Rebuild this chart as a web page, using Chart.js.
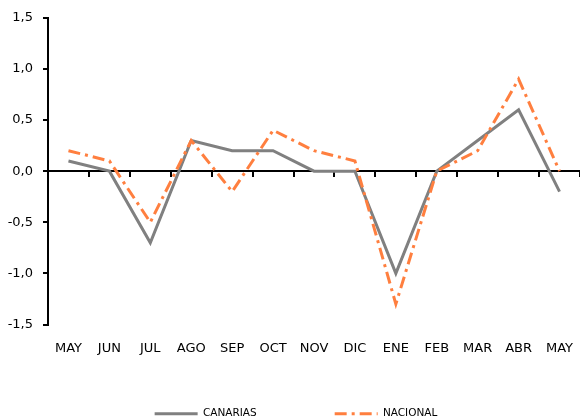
<!DOCTYPE html>
<html>
<head>
<meta charset="utf-8">
<script src="https://cdn.jsdelivr.net/npm/chart.js@4/dist/chart.umd.min.js"></script>
<style>
  html, body { margin: 0; padding: 0; background: #fff; }
  #wrap { width: 580px; height: 419px; position: relative; }
</style>
</head>
<body>
<div id="wrap"><canvas id="c" width="580" height="419"></canvas></div>
<script>
const months = ['MAY','JUN','JUL','AGO','SEP','OCT','NOV','DIC','ENE','FEB','MAR','ABR','MAY'];
const canarias = [0.1, 0.0, -0.7, 0.3, 0.2, 0.2, 0.0, 0.0, -1.0, 0.0, 0.3, 0.6, -0.2];
const nacional = [0.2, 0.1, -0.5, 0.3, -0.2, 0.4, 0.2, 0.1, -1.3, 0.0, 0.2, 0.9, 0.0];
const yMin = -1.5, yMax = 1.5, yStep = 0.5;

const FONT = 'DejaVu Sans';

new Chart(document.getElementById('c'), {
  type: 'line',
  data: {
    labels: months,
    datasets: [
      { label: 'CANARIAS', data: canarias, borderColor: '#808080', backgroundColor: '#808080',
        borderWidth: 3, pointRadius: 0, tension: 0, order: 1 },
      { label: 'NACIONAL', data: nacional, borderColor: '#FF7F3F', backgroundColor: '#FF7F3F',
        borderWidth: 3, borderDash: [12, 5, 3, 5], pointRadius: 0, tension: 0, order: 0 }
    ]
  },
  options: {
    responsive: false,
    animation: false,
    devicePixelRatio: 1,
    layout: { padding: { top: 17, right: -12, left: 0, bottom: -10 } },
    plugins: {
      tooltip: { enabled: false },
      title: { display: false },
      legend: {
        position: 'bottom',
        labels: {
          sort: (a, b) => a.datasetIndex - b.datasetIndex,
          usePointStyle: true,
          pointStyle: 'line',
          pointStyleWidth: 43,
          padding: 78,
          color: '#000',
          font: { family: FONT, size: 10.5 },
          generateLabels: (chart) => {
            const items = Chart.defaults.plugins.legend.labels.generateLabels(chart);
            return items.map(it => {
              const ds = chart.data.datasets[it.datasetIndex];
              it.lineDash = ds.borderDash || [];
              it.lineWidth = ds.borderWidth;
              it.strokeStyle = ds.borderColor;
              it.fillStyle = ds.borderColor;
              it.pointStyle = 'line';
              return it;
            });
          }
        }
      }
    },
    scales: {
      x: {
        type: 'category',
        position: { y: 0 },
        offset: true,
        grid: { display: true, offset: true, drawOnChartArea: false, drawTicks: true, tickLength: 5, color: '#000', lineWidth: 2 },
        border: { display: true, color: '#000', width: 2 },
        ticks: { color: '#000', padding: 165, font: { family: FONT, size: 13 }, maxRotation: 0, autoSkip: false },
        afterFit: (s) => { s.paddingLeft = 0; s.paddingRight = 0; }
      },
      xb: {
        type: 'category',
        position: 'bottom',
        offset: true,
        grid: { display: false, drawTicks: false },
        border: { display: false },
        ticks: { display: false },
        afterFit: (s) => { s.height = 6; s.paddingLeft = 0; s.paddingRight = 0; }
      },
      y: {
        type: 'linear',
        position: 'left',
        min: yMin, max: yMax,
        grid: { display: true, drawOnChartArea: false, drawTicks: true, tickLength: 5, color: '#000', lineWidth: 2 },
        border: { display: true, color: '#000', width: 2 },
        ticks: {
          stepSize: yStep,
          padding: 10,
          color: '#000',
          font: { family: FONT, size: 13 },
          callback: (v) => v.toFixed(1).replace('.', ',')
        },
        afterFit: (s) => { s.width = 48; }
      },
      y2: {
        type: 'linear',
        position: 'right',
        grid: { display: false, drawTicks: false },
        border: { display: false },
        ticks: { display: false },
        afterFit: (s) => { s.width = 12; s.paddingTop = 0; s.paddingBottom = 0; }
      }
    }
  }
});
</script>
</body>
</html>
